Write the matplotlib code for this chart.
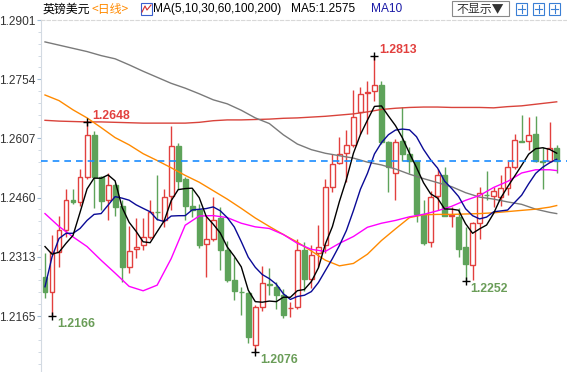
import numpy as np
import pandas as pd
import matplotlib
matplotlib.use('Agg')
import matplotlib.pyplot as plt
from matplotlib.patches import Rectangle
from matplotlib.lines import Line2D
from matplotlib.ticker import FixedLocator

# daily GBP/USD candles (open, high, low, close)
opens = [1.2262, 1.2224, 1.2324, 1.2378, 1.2453, 1.2448, 1.2512, 1.2616, 1.2512, 1.2453,
         1.2490, 1.2438, 1.2286, 1.2331, 1.2341, 1.2362, 1.2425, 1.2403, 1.2463, 1.2589,
         1.2505, 1.2438, 1.2428, 1.2345, 1.2358, 1.2408, 1.2329, 1.2254, 1.2226, 1.2223,
         1.2093, 1.2187, 1.2244, 1.2238, 1.2217, 1.2185, 1.2187, 1.2329, 1.2257, 1.2321,
         1.2343, 1.2486, 1.2547, 1.2570, 1.2591, 1.2672, 1.2719, 1.2725, 1.2740, 1.2597,
         1.2522, 1.2600, 1.2569, 1.2550, 1.2418, 1.2349, 1.2463, 1.2515, 1.2415, 1.2411,
         1.2337, 1.2293, 1.2396, 1.2467, 1.2463, 1.2461, 1.2484, 1.2537, 1.2601, 1.2601,
         1.2618, 1.2552, 1.2552, 1.2582]
highs = [1.2321, 1.2366, 1.2413, 1.2482, 1.2482, 1.2532, 1.2648, 1.2626, 1.2514, 1.2520,
         1.2495, 1.2453, 1.2388, 1.2410, 1.2410, 1.2453, 1.2515, 1.2482, 1.2639, 1.2595,
         1.2512, 1.2482, 1.2445, 1.2415, 1.2462, 1.2436, 1.2353, 1.2312, 1.2238, 1.2225,
         1.2192, 1.2289, 1.2284, 1.2250, 1.2232, 1.2200, 1.2358, 1.2349, 1.2341, 1.2391,
         1.2505, 1.2569, 1.2610, 1.2629, 1.2728, 1.2734, 1.2750, 1.2813, 1.2750, 1.2601,
         1.2606, 1.2684, 1.2586, 1.2552, 1.2453, 1.2477, 1.2532, 1.2537, 1.2436, 1.2433,
         1.2386, 1.2398, 1.2487, 1.2527, 1.2487, 1.2517, 1.2552, 1.2618, 1.2666, 1.2661,
         1.2663, 1.2585, 1.2647, 1.2591]
lows = [1.2210, 1.2166, 1.2286, 1.2361, 1.2445, 1.2440, 1.2505, 1.2435, 1.2428, 1.2405,
        1.2415, 1.2250, 1.2272, 1.2309, 1.2329, 1.2358, 1.2403, 1.2386, 1.2428, 1.2482,
        1.2403, 1.2411, 1.2334, 1.2262, 1.2353, 1.2279, 1.2250, 1.2206, 1.2168, 1.2099,
        1.2076, 1.2177, 1.2217, 1.2182, 1.2160, 1.2162, 1.2182, 1.2228, 1.2234, 1.2287,
        1.2321, 1.2473, 1.2544, 1.2498, 1.2586, 1.2619, 1.2619, 1.2701, 1.2594, 1.2473,
        1.2454, 1.2552, 1.2520, 1.2399, 1.2341, 1.2337, 1.2428, 1.2413, 1.2386, 1.2312,
        1.2252, 1.2254, 1.2358, 1.2454, 1.2436, 1.2438, 1.2465, 1.2531, 1.2597, 1.2577,
        1.2548, 1.2482, 1.2548, 1.2520]
closes = [1.2224, 1.2324, 1.2378, 1.2453, 1.2450, 1.2510, 1.2616, 1.2512, 1.2451, 1.2492,
          1.2436, 1.2286, 1.2327, 1.2338, 1.2362, 1.2425, 1.2423, 1.2461, 1.2589, 1.2500,
          1.2438, 1.2428, 1.2343, 1.2356, 1.2403, 1.2329, 1.2254, 1.2228, 1.2224, 1.2112,
          1.2187, 1.2247, 1.2242, 1.2217, 1.2167, 1.2186, 1.2329, 1.2257, 1.2316, 1.2336,
          1.2485, 1.2544, 1.2569, 1.2591, 1.2661, 1.2718, 1.2723, 1.2740, 1.2597, 1.2535,
          1.2599, 1.2569, 1.2550, 1.2420, 1.2346, 1.2462, 1.2515, 1.2415, 1.2417, 1.2333,
          1.2294, 1.2396, 1.2470, 1.2465, 1.2477, 1.2484, 1.2537, 1.2603, 1.2599, 1.2616,
          1.2552, 1.2549, 1.2582, 1.2552]

# first values of the short averages (earlier days are off screen)
ma5_head = [1.2338, 1.2319, 1.2324, 1.2346]
ma10_head = [1.2238, 1.2312, 1.2358, 1.2371, 1.2371, 1.2383, 1.2403, 1.2418, 1.2420]

# long averages at every other candle
ma_idx = list(range(0, 74, 2)) + [73]
ma30 = [1.2420, 1.2388, 1.2362, 1.2338, 1.2304, 1.2272, 1.2239, 1.2228, 1.2242, 1.2308,
        1.2391, 1.2414, 1.2415, 1.2410, 1.2396, 1.2387, 1.2383, 1.2368, 1.2346, 1.2331,
        1.2326, 1.2346, 1.2363, 1.2386, 1.2396, 1.2403, 1.2412, 1.2418, 1.2427, 1.2438,
        1.2453, 1.2465, 1.2485, 1.2500, 1.2521, 1.2529, 1.2529, 1.2527]
ma60 = [1.2715, 1.2701, 1.2678, 1.2658, 1.2634, 1.2609, 1.2591, 1.2569, 1.2552, 1.2534,
        1.2515, 1.2498, 1.2477, 1.2456, 1.2433, 1.2409, 1.2388, 1.2368, 1.2349, 1.2327,
        1.2304, 1.2290, 1.2296, 1.2319, 1.2353, 1.2382, 1.2410, 1.2417, 1.2418, 1.2418,
        1.2419, 1.2420, 1.2422, 1.2425, 1.2428, 1.2431, 1.2436, 1.2440]
ma100 = [1.2847, 1.2839, 1.2831, 1.2823, 1.2813, 1.2805, 1.2790, 1.2774, 1.2759, 1.2744,
         1.2732, 1.2718, 1.2703, 1.2693, 1.2677, 1.2658, 1.2644, 1.2616, 1.2593, 1.2579,
         1.2570, 1.2564, 1.2558, 1.2548, 1.2541, 1.2531, 1.2518, 1.2507, 1.2497, 1.2487,
         1.2472, 1.2461, 1.2456, 1.2449, 1.2443, 1.2431, 1.2423, 1.2420]
ma200 = [1.2652, 1.2650, 1.2649, 1.2648, 1.2648, 1.2647, 1.2646, 1.2645, 1.2645, 1.2645,
         1.2645, 1.2647, 1.2651, 1.2653, 1.2653, 1.2654, 1.2655, 1.2657, 1.2658, 1.2660,
         1.2662, 1.2665, 1.2668, 1.2673, 1.2679, 1.2682, 1.2684, 1.2685, 1.2685, 1.2684,
         1.2684, 1.2684, 1.2683, 1.2686, 1.2688, 1.2692, 1.2696, 1.2698]

# marked highs / lows
mark_idx = [6, 47, 1, 30, 60]
mark_val = [1.2648, 1.2813, 1.2166, 1.2076, 1.2252]
mark_high = [True, True, False, False, False]

ytick_vals = [1.2165, 1.2313, 1.2460, 1.2607, 1.2754, 1.2901]
ytick_text = ['1.2165', '1.2313', '1.2460', '1.2607', '1.2754', '1.2901']

RED = '#e2403e'
GREEN = '#5ea35a'
LAT = 'Liberation Sans'
CJK = ['Noto Sans CJK SC', 'DejaVu Sans']

n = len(closes)
x = np.arange(n)
o = np.array(opens); c = np.array(closes)
up = c >= o

cs = pd.Series(closes)
ma5 = cs.rolling(5).mean().values
ma5[:4] = ma5_head
ma10 = cs.rolling(10).mean().values
ma10[:9] = ma10_head

W, H = 567, 372
fig = plt.figure(figsize=(W / 100, H / 100), dpi=100)
ax = fig.add_axes([41 / W, 0, 526 / W, 352 / H])

cols = [RED if u else GREEN for u in up]
faces = ['white' if u else GREEN for u in up]
ax.vlines(x, lows, highs, colors=cols, lw=1, zorder=2)
bottoms = np.minimum(o, c)
heights = np.maximum(np.abs(c - o), 0.00004)
ax.bar(x, heights, bottom=bottoms, width=0.7, color=faces, edgecolor=cols,
       linewidth=1, zorder=3)

ax.plot(ma_idx, ma200, color='#d9433b', lw=1, zorder=4)
ax.plot(ma_idx, ma100, color='#7a7a7a', lw=1, zorder=4)
ax.plot(ma_idx, ma60, color='#ff8a00', lw=1, zorder=4)
ax.plot(ma_idx, ma30, color='#ff00ff', lw=1, zorder=4)
ax.plot(x, ma10, color='#0a0a96', lw=1, zorder=5)
ax.plot(x, ma5, color='black', lw=1, zorder=6)

ax.axhline(closes[-1], color='#1a8cff', lw=1.2, ls=(0, (4, 3)), zorder=7)

for i, v, hi in zip(mark_idx, mark_val, mark_high):
    ax.plot(i, v, marker='+', color='black', ms=6, mew=1, zorder=8)
    ax.annotate('%.4f' % v, (i, v), xytext=(3.6, 4.3 if hi else -5.8),
                textcoords='offset points', ha='left', va='center',
                color=RED if hi else '#6a9d58', fontsize=8.8,
                fontweight='bold', family=LAT, zorder=9)

ax.set_xlim(-0.57, 74.47)
ax.set_ylim(1.2026, 1.29015)
ax.set_xticks([])
ax.set_yticks(ytick_vals)
ax.set_yticklabels(ytick_text, family=LAT, fontsize=8.6, color='#333333')
minors = []
for a, b in zip(ytick_vals[:-1], ytick_vals[1:]):
    minors += list(np.linspace(a, b, 6)[1:-1])
minors += [ytick_vals[0] - k * (ytick_vals[1] - ytick_vals[0]) / 5 for k in range(1, 5)]
ax.yaxis.set_minor_locator(FixedLocator(minors))
ax.tick_params(axis='y', which='major', length=3, color='#9fbbd6', pad=1)
ax.tick_params(axis='y', which='minor', length=2, color='#c9d3de')
for s in ['right', 'bottom']:
    ax.spines[s].set_visible(False)
ax.spines['left'].set_color('#d3dae2')
ax.spines['top'].set_color('#d8d8d8')
ax.spines['top'].set_linestyle((0, (3, 2)))

# header line
def fx(px):
    return px / W

def fy(py):
    return 1 - py / H

hy = fy(9)
fig.text(fx(43), hy, '英镑美元', family=CJK, fontsize=8.6, va='center', color='black')
fig.text(fx(91), hy, '<日线>', family=CJK, fontsize=8.6, va='center', color='#ff8a00')
fig.add_artist(Rectangle((fx(141), fy(15)), 11 / W, 12 / H, transform=fig.transFigure,
                         fill=False, edgecolor='#3a5fcd', lw=0.8))
fig.add_artist(Line2D([fx(142), fx(145), fx(147), fx(151)], [fy(12), fy(6), fy(10), fy(5)],
                      transform=fig.transFigure, color='#d23030', lw=0.8))
fig.text(fx(153), hy, 'MA(5,10,30,60,100,200)', family=LAT, fontsize=8.6, va='center', color='black')
fig.text(fx(291), hy, 'MA5:1.2575', family=LAT, fontsize=8.6, va='center', color='black')
fig.text(fx(371), hy, 'MA10', family=LAT, fontsize=8.6, va='center', color='#1a1aa6')

fig.add_artist(Rectangle((fx(452), fy(16)), 57 / W, 15 / H, transform=fig.transFigure,
                         facecolor='white', edgecolor='#8a8a8a', lw=0.8))
fig.text(fx(456), hy, '不显示▼', family=CJK, fontsize=8.6, va='center', color='#333333')
for bx in [516, 533, 549]:
    fig.add_artist(Rectangle((fx(bx), fy(15)), 11 / W, 12 / H, transform=fig.transFigure,
                             fill=False, edgecolor='#3a7fd5', lw=0.8))
    fig.add_artist(Line2D([fx(bx + 5.5), fx(bx + 5.5)], [fy(13), fy(5)],
                          transform=fig.transFigure, color='#3a7fd5', lw=0.8))
    fig.add_artist(Line2D([fx(bx + 2), fx(bx + 9)], [fy(9), fy(9)],
                          transform=fig.transFigure, color='#3a7fd5', lw=0.8))

fig.savefig('out.png', dpi=100)
